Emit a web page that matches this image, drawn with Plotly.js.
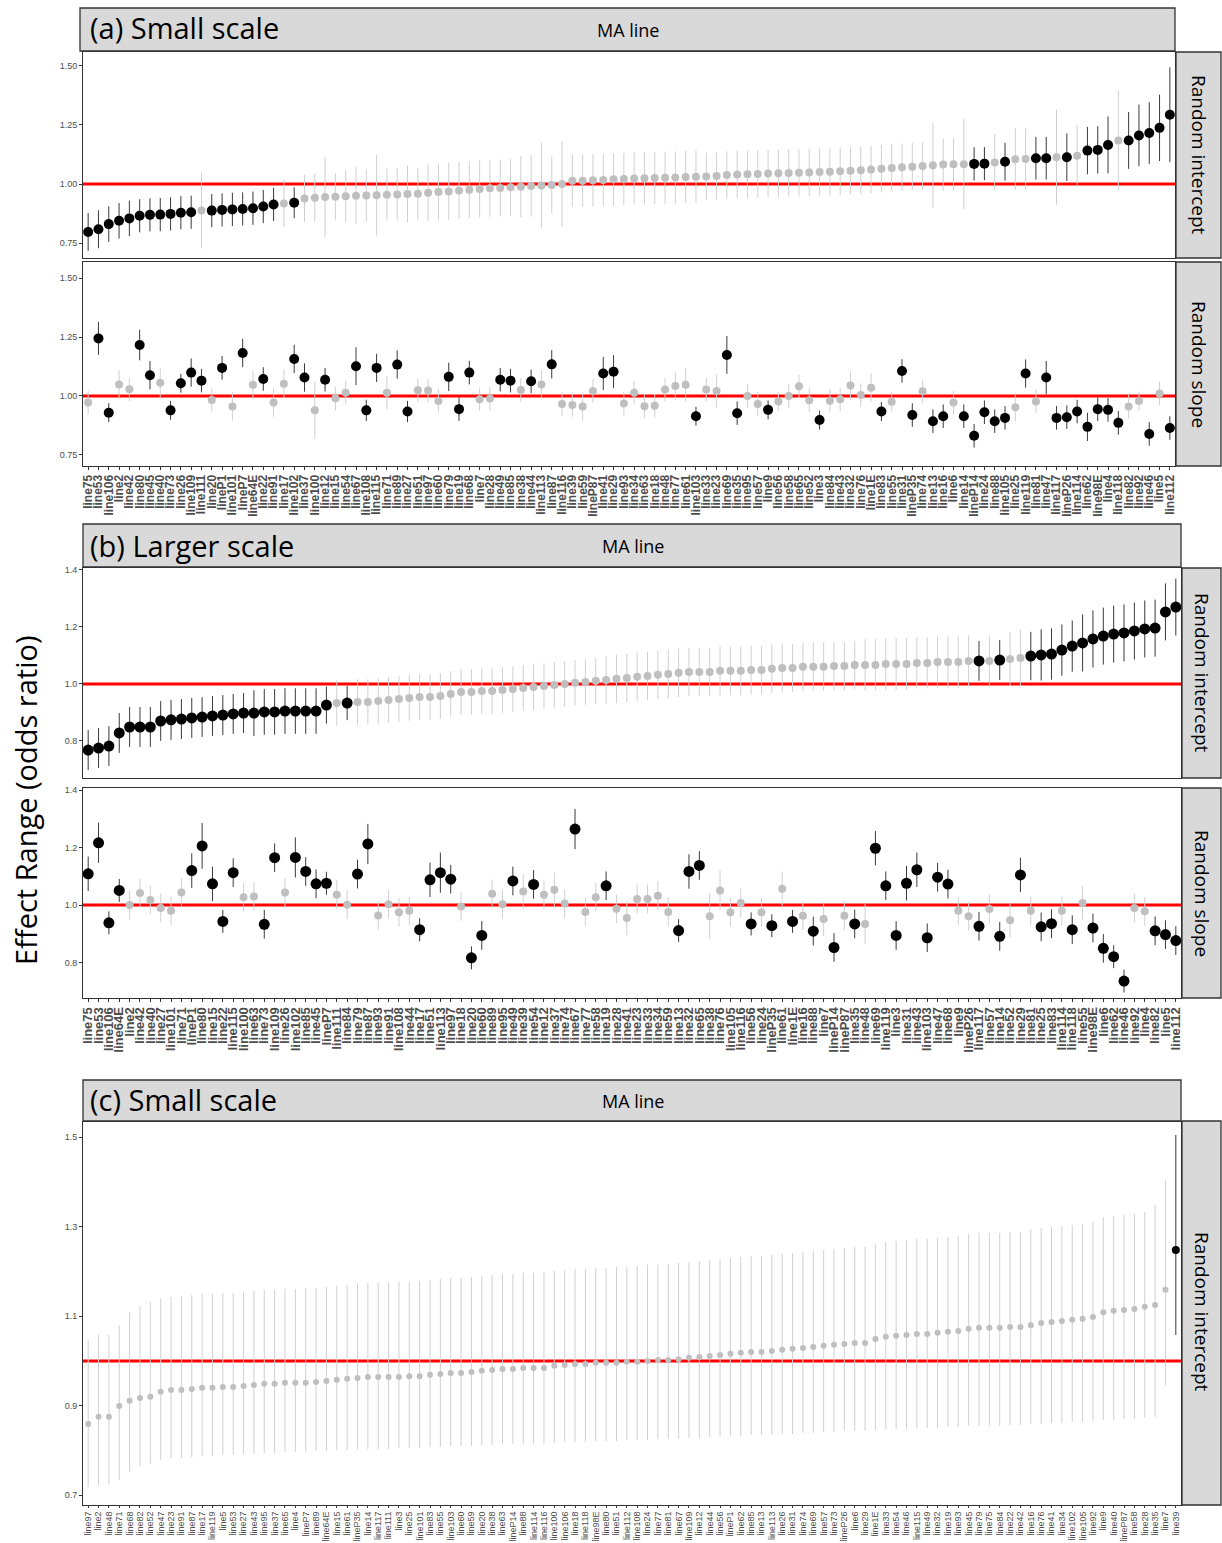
<!DOCTYPE html>
<html><head><meta charset="utf-8">
<script src="https://cdn.plot.ly/plotly-3.0.1.min.js"></script>
<style>body{margin:0;background:#fff}#chart{width:1222px;height:1543px}</style>
</head><body><div id="chart"></div>
<script>
// ---------------- DATA ----------------
const labelsA = ["line75","line53","line106","line2","line42","line80","line45","line40","line73","line26",
"line109","line111","line20","lineP1","line101","lineP7","line64E","line22","line91","line17",
"line102","line37","line100","line12","line15","line54","line67","line108","line115","line71",
"line89","line27","line51","line97","line60","line79","line19","line68","line7","line28",
"line49","line85","line38","line44","line113","line87","line116","line39","line59","lineP87",
"line41","line29","line93","line34","line63","line18","line48","line77","line61","line103",
"line33","line23","line69","line35","line95","line57","line9","line56","line58","line65",
"line52","line3","line84","line43","line32","line76","line1E","line83","line55","line31",
"lineP35","line74","line13","line16","line6","line14","lineP14","line24","line88","line105",
"line25","line119","line81","line47","line117","lineP26","line114","line62","line98E","line4",
"line118","line82","line92","line46","line5","line112"];

const interceptA = [0.798,0.809,0.831,0.845,0.855,0.866,0.870,0.871,0.874,0.879,
0.881,0.888,0.888,0.891,0.893,0.895,0.898,0.905,0.914,0.918,
0.921,0.939,0.942,0.945,0.946,0.948,0.951,0.952,0.953,0.955,
0.956,0.958,0.959,0.963,0.966,0.969,0.973,0.976,0.979,0.982,
0.983,0.986,0.989,0.992,0.994,0.996,1.000,1.014,1.014,1.016,
1.017,1.020,1.021,1.023,1.024,1.025,1.027,1.028,1.030,1.031,
1.032,1.034,1.038,1.040,1.041,1.042,1.044,1.045,1.047,1.048,
1.049,1.051,1.052,1.054,1.056,1.058,1.061,1.065,1.068,1.071,
1.073,1.076,1.079,1.082,1.083,1.084,1.085,1.086,1.091,1.094,
1.105,1.106,1.109,1.109,1.113,1.113,1.119,1.141,1.144,1.165,
1.184,1.184,1.205,1.215,1.237,1.292];
const interceptAErr = [0.08,0.08,0.075,0.075,0.075,0.07,0.07,0.07,0.07,0.07,
0.07,0.16,0.07,0.07,0.07,0.07,0.07,0.07,0.07,0.10,
0.065,0.10,0.10,0.17,0.10,0.11,0.12,0.11,0.17,0.11,
0.11,0.12,0.11,0.12,0.12,0.12,0.12,0.12,0.12,0.12,
0.12,0.12,0.13,0.13,0.18,0.12,0.18,0.11,0.11,0.11,
0.11,0.11,0.11,0.11,0.11,0.11,0.11,0.11,0.11,0.11,
0.10,0.10,0.10,0.10,0.10,0.10,0.10,0.10,0.10,0.10,
0.10,0.10,0.10,0.10,0.10,0.10,0.10,0.10,0.10,0.10,
0.10,0.10,0.18,0.11,0.11,0.19,0.07,0.07,0.12,0.08,
0.13,0.13,0.09,0.09,0.20,0.10,0.13,0.10,0.10,0.12,
0.21,0.12,0.13,0.13,0.14,0.20];
const interceptASig = [1,1,1,1,1,1,1,1,1,1,
1,0,1,1,1,1,1,1,1,0,
1,0,0,0,0,0,0,0,0,0,
0,0,0,0,0,0,0,0,0,0,
0,0,0,0,0,0,0,0,0,0,
0,0,0,0,0,0,0,0,0,0,
0,0,0,0,0,0,0,0,0,0,
0,0,0,0,0,0,0,0,0,0,
0,0,0,0,0,0,1,1,0,1,
0,0,1,1,0,1,0,1,1,1,
0,1,1,1,1,1];

const slopeA = [0.972,1.244,0.929,1.049,1.028,1.216,1.088,1.056,0.939,1.054,
1.099,1.065,0.983,1.119,0.955,1.182,1.047,1.072,0.972,1.052,
1.157,1.078,0.939,1.069,0.990,1.014,1.126,0.939,1.119,1.014,
1.133,0.934,1.024,1.023,0.979,1.081,0.944,1.099,0.986,0.989,
1.069,1.065,1.025,1.062,1.049,1.134,0.966,0.962,0.955,1.021,
1.095,1.103,0.968,1.014,0.956,0.958,1.027,1.042,1.047,0.914,
1.027,1.021,1.174,0.927,1.000,0.966,0.941,0.977,1.000,1.041,
0.982,0.898,0.980,0.986,1.044,1.004,1.035,0.934,0.975,1.106,
0.919,1.020,0.893,0.914,0.972,0.914,0.831,0.931,0.893,0.907,
0.952,1.095,0.977,1.078,0.907,0.910,0.934,0.869,0.944,0.941,
0.886,0.955,0.979,0.839,1.010,0.864];
const slopeAErr = [0.05,0.07,0.04,0.06,0.05,0.065,0.06,0.06,0.04,0.04,
0.06,0.05,0.05,0.05,0.06,0.06,0.06,0.05,0.06,0.06,
0.06,0.06,0.12,0.05,0.05,0.05,0.08,0.045,0.06,0.07,
0.06,0.045,0.05,0.05,0.05,0.06,0.05,0.05,0.05,0.05,
0.05,0.05,0.05,0.05,0.06,0.06,0.05,0.05,0.06,0.05,
0.07,0.07,0.05,0.05,0.05,0.05,0.05,0.06,0.07,0.04,
0.05,0.07,0.08,0.05,0.05,0.05,0.04,0.04,0.05,0.05,
0.05,0.04,0.05,0.05,0.06,0.05,0.06,0.04,0.04,0.05,
0.05,0.05,0.05,0.05,0.05,0.05,0.05,0.05,0.05,0.05,
0.06,0.06,0.05,0.07,0.05,0.05,0.05,0.06,0.05,0.05,
0.05,0.05,0.04,0.05,0.05,0.05];
const slopeASig = [0,1,1,0,0,1,1,0,1,1,
1,1,0,1,0,1,0,1,0,0,
1,1,0,1,0,0,1,1,1,0,
1,1,0,0,0,1,1,1,0,0,
1,1,0,1,0,1,0,0,0,0,
1,1,0,0,0,0,0,0,0,1,
0,0,1,1,0,0,1,0,0,0,
0,1,0,0,0,0,0,1,0,1,
1,0,1,1,0,1,1,1,1,1,
0,1,0,1,1,1,1,1,1,1,
1,0,0,1,0,1];

const labelsB = ["line75","line53","line106","line64E","line2","line42","line40","line27","line101","line71",
"lineP1","line80","line15","line22","line115","line100","line63","line73","line109","line26",
"line102","line85","line45","lineP7","line111","line84","line79","line87","line93","line91",
"line108","line44","line17","line51","line113","line97","line18","line20","line60","line89",
"line95","line49","line39","line54","line12","line37","line74","line67","line77","line58",
"line19","line28","line41","line23","line33","line34","line59","line13","line32","line65",
"line38","line76","line105","line116","line56","line24","lineP35","line61","line1E","line16",
"line88","line7","lineP14","lineP87","line35","line48","line69","line119","line3","line31",
"line43","line103","line47","line68","line9","lineP26","line117","line57","line14","line52",
"line29","line81","line25","line83","line114","line118","line55","line98E","line6","line62",
"line46","line92","line4","line82","line5","line112"];

const interceptB = [0.768,0.775,0.782,0.828,0.849,0.849,0.849,0.870,0.874,0.877,
0.881,0.884,0.888,0.891,0.895,0.898,0.898,0.902,0.902,0.905,
0.905,0.905,0.905,0.926,0.933,0.933,0.937,0.937,0.940,0.944,
0.947,0.951,0.954,0.954,0.958,0.965,0.972,0.972,0.975,0.975,
0.979,0.982,0.986,0.989,0.993,0.996,1.000,1.004,1.007,1.011,
1.014,1.018,1.021,1.025,1.028,1.032,1.035,1.039,1.042,1.042,
1.042,1.046,1.046,1.046,1.049,1.049,1.053,1.056,1.056,1.060,
1.060,1.060,1.063,1.063,1.067,1.067,1.067,1.070,1.070,1.070,
1.074,1.074,1.077,1.077,1.077,1.081,1.081,1.081,1.084,1.088,
1.091,1.098,1.102,1.105,1.119,1.133,1.144,1.158,1.168,1.175,
1.179,1.186,1.193,1.196,1.253,1.270];
const interceptBErr = [0.07,0.07,0.07,0.07,0.07,0.07,0.07,0.07,0.07,0.07,
0.07,0.07,0.07,0.07,0.07,0.07,0.08,0.08,0.08,0.08,
0.08,0.08,0.08,0.065,0.08,0.06,0.08,0.08,0.08,0.08,
0.08,0.08,0.08,0.08,0.08,0.08,0.08,0.08,0.08,0.08,
0.08,0.08,0.08,0.08,0.08,0.08,0.08,0.08,0.08,0.08,
0.085,0.085,0.085,0.085,0.085,0.085,0.085,0.085,0.085,0.085,
0.085,0.085,0.085,0.085,0.085,0.085,0.085,0.085,0.085,0.085,
0.085,0.085,0.085,0.085,0.085,0.09,0.09,0.09,0.09,0.09,
0.09,0.09,0.09,0.09,0.09,0.09,0.07,0.09,0.07,0.095,
0.10,0.085,0.09,0.09,0.09,0.09,0.10,0.10,0.10,0.10,
0.10,0.10,0.10,0.10,0.10,0.10];
const interceptBSig = [1,1,1,1,1,1,1,1,1,1,
1,1,1,1,1,1,1,1,1,1,
1,1,1,1,0,1,0,0,0,0,
0,0,0,0,0,0,0,0,0,0,
0,0,0,0,0,0,0,0,0,0,
0,0,0,0,0,0,0,0,0,0,
0,0,0,0,0,0,0,0,0,0,
0,0,0,0,0,0,0,0,0,0,
0,0,0,0,0,0,1,0,1,0,
0,1,1,1,1,1,1,1,1,1,
1,1,1,1,1,1];

const slopeB = [1.109,1.217,0.938,1.051,1.000,1.042,1.018,0.990,0.980,1.044,
1.120,1.206,1.074,0.943,1.113,1.027,1.030,0.933,1.165,1.044,
1.166,1.117,1.074,1.076,1.036,1.001,1.108,1.213,0.964,1.003,
0.975,0.980,0.914,1.088,1.113,1.090,0.995,0.816,0.894,1.039,
1.003,1.084,1.047,1.072,1.036,1.053,1.005,1.265,0.976,1.027,
1.067,0.987,0.955,1.021,1.021,1.032,0.976,0.911,1.117,1.138,
0.961,1.051,0.975,1.007,0.934,0.975,0.928,1.057,0.943,0.963,
0.909,0.951,0.852,0.963,0.934,0.934,1.198,1.067,0.894,1.076,
1.123,0.886,1.097,1.073,0.980,0.961,0.926,0.986,0.891,0.947,
1.105,0.980,0.924,0.935,0.980,0.914,1.007,0.920,0.849,0.820,
0.735,0.990,0.978,0.910,0.897,0.876];
const slopeBErr = [0.06,0.07,0.04,0.04,0.05,0.05,0.05,0.05,0.05,0.05,
0.06,0.08,0.06,0.04,0.05,0.05,0.05,0.05,0.05,0.05,
0.07,0.05,0.05,0.04,0.05,0.05,0.05,0.07,0.05,0.05,
0.05,0.05,0.04,0.06,0.07,0.05,0.05,0.04,0.05,0.05,
0.05,0.05,0.06,0.05,0.05,0.06,0.05,0.07,0.05,0.05,
0.05,0.05,0.06,0.05,0.05,0.05,0.05,0.04,0.06,0.05,
0.08,0.07,0.05,0.05,0.04,0.05,0.04,0.06,0.04,0.05,
0.05,0.06,0.05,0.05,0.05,0.07,0.06,0.05,0.05,0.06,
0.06,0.05,0.05,0.05,0.05,0.05,0.05,0.05,0.05,0.06,
0.06,0.05,0.05,0.05,0.05,0.05,0.06,0.05,0.05,0.04,
0.04,0.05,0.05,0.05,0.05,0.05];
const slopeBSig = [1,1,1,1,0,0,0,0,0,0,
1,1,1,1,1,0,0,1,1,0,
1,1,1,1,0,0,1,1,0,0,
0,0,1,1,1,1,0,1,1,0,
0,1,0,1,0,0,0,1,0,0,
1,0,0,0,0,0,0,1,1,1,
0,0,0,0,1,0,1,0,1,0,
1,0,1,0,1,0,1,1,1,1,
1,1,1,1,0,0,1,0,1,0,
1,0,1,1,0,1,0,1,1,1,
1,0,0,1,1,1];

const labelsC = ["line97","line2","line48","line71","line68","line82","line52","line47","line23","line91",
"line87","line17","line119","line5","line53","line27","line43","line95","line37","line65",
"line4","lineP7","line89","line64E","line15","line61","lineP35","line14","line117","line111",
"line3","line25","line101","line83","line55","line103","line60","line59","line20","line38",
"line63","lineP14","line88","line114","line116","line100","line106","line18","line118","line98E",
"line80","line51","line112","line108","line24","line77","line81","line67","line109","line12",
"line44","line56","lineP1","line62","line85","line13","line113","line26","line31","line74",
"line69","line57","line73","lineP26","line6","line29","line1E","line33","line54","line46",
"line115","line49","line32","line19","line93","line45","line79","line75","line84","line22",
"line42","line16","line76","line41","line34","line102","line105","line92","line9","line40",
"lineP87","line58","line28","line35","line7","line39"];

const interceptC = [0.859,0.875,0.875,0.899,0.911,0.917,0.920,0.931,0.935,0.935,
0.937,0.940,0.940,0.942,0.942,0.944,0.946,0.949,0.949,0.951,
0.951,0.951,0.953,0.955,0.958,0.960,0.962,0.964,0.964,0.964,
0.964,0.966,0.966,0.969,0.971,0.973,0.973,0.975,0.978,0.980,
0.982,0.982,0.984,0.984,0.984,0.989,0.991,0.993,0.993,0.996,
0.996,0.996,0.998,0.998,1.000,1.002,1.002,1.004,1.007,1.009,
1.011,1.013,1.016,1.018,1.020,1.020,1.022,1.025,1.027,1.029,
1.031,1.034,1.036,1.038,1.040,1.040,1.049,1.054,1.056,1.058,
1.060,1.060,1.063,1.065,1.067,1.072,1.074,1.074,1.074,1.076,
1.076,1.080,1.085,1.087,1.089,1.092,1.094,1.098,1.109,1.112,
1.114,1.116,1.121,1.125,1.159,1.248];
const interceptCHi = [1.047,1.058,1.058,1.080,1.109,1.123,1.132,1.139,1.143,1.145,
1.147,1.150,1.150,1.152,1.152,1.154,1.156,1.159,1.159,1.161,
1.161,1.163,1.163,1.165,1.168,1.170,1.172,1.174,1.174,1.174,
1.177,1.177,1.179,1.181,1.183,1.185,1.185,1.188,1.190,1.192,
1.194,1.194,1.197,1.197,1.199,1.201,1.203,1.206,1.206,1.208,
1.208,1.210,1.210,1.212,1.215,1.215,1.217,1.219,1.221,1.223,
1.226,1.228,1.230,1.232,1.235,1.235,1.237,1.239,1.241,1.244,
1.246,1.248,1.250,1.253,1.255,1.255,1.261,1.266,1.268,1.270,
1.273,1.273,1.275,1.277,1.279,1.284,1.286,1.286,1.286,1.288,
1.288,1.293,1.297,1.299,1.302,1.304,1.306,1.311,1.322,1.324,
1.326,1.328,1.333,1.349,1.404,1.505];
const interceptCLo = [0.718,0.723,0.725,0.734,0.752,0.765,0.770,0.779,0.783,0.783,
0.785,0.788,0.788,0.790,0.790,0.792,0.792,0.794,0.794,0.797,
0.797,0.797,0.799,0.799,0.801,0.801,0.803,0.803,0.803,0.803,
0.806,0.806,0.806,0.808,0.808,0.810,0.810,0.810,0.812,0.812,
0.815,0.815,0.815,0.815,0.815,0.817,0.819,0.819,0.819,0.821,
0.821,0.821,0.823,0.823,0.823,0.826,0.826,0.826,0.828,0.828,
0.830,0.830,0.832,0.832,0.835,0.835,0.835,0.837,0.837,0.839,
0.839,0.841,0.841,0.844,0.844,0.844,0.846,0.848,0.848,0.848,
0.850,0.850,0.850,0.853,0.853,0.855,0.855,0.855,0.855,0.857,
0.857,0.859,0.859,0.861,0.861,0.864,0.864,0.866,0.868,0.868,
0.870,0.870,0.873,0.875,0.946,1.058];
const interceptCSig = [0,0,0,0,0,0,0,0,0,0,0,0,0,0,0,0,0,0,0,0,
0,0,0,0,0,0,0,0,0,0,0,0,0,0,0,0,0,0,0,0,
0,0,0,0,0,0,0,0,0,0,0,0,0,0,0,0,0,0,0,0,
0,0,0,0,0,0,0,0,0,0,0,0,0,0,0,0,0,0,0,0,
0,0,0,0,0,0,0,0,0,0,0,0,0,0,0,0,0,0,0,0,
0,0,0,0,0,1];

const yTicksA = [0.75,1.00,1.25,1.50], yTickTextA = ["0.75","1.00","1.25","1.50"];
const yTicksB = [0.8,1.0,1.2,1.4], yTickTextB = ["0.8","1.0","1.2","1.4"];
const yTicksC = [0.7,0.9,1.1,1.3,1.5], yTickTextC = ["0.7","0.9","1.1","1.3","1.5"];

// ---------------- LAYOUT HELPERS ----------------
const W = 1222, H = 1543;
const px = x => x / W, py = y => 1 - y / H;

function pointTraces(labels, vals, up, down, sig, xa, ya, sizes) {
  const groups = [
    {s: 0, color: '#bfbfbf', ecolor: '#d0d0d0', size: sizes[0]},
    {s: 1, color: '#000000', ecolor: '#3a3a3a', size: sizes[1]}
  ];
  return groups.map(g => {
    const idx = labels.map((_, i) => i).filter(i => sig[i] === g.s);
    return {
      type: 'scatter', mode: 'markers', xaxis: xa, yaxis: ya, showlegend: false,
      x: idx.map(i => labels[i]), y: idx.map(i => vals[i]),
      marker: {color: g.color, size: g.size},
      error_y: {type: 'data', symmetric: false, array: idx.map(i => up[i]),
                arrayminus: idx.map(i => down[i]), color: g.ecolor, thickness: 1, width: 0}
    };
  });
}

const traces = [].concat(
  pointTraces(labelsA, interceptA, interceptAErr, interceptAErr, interceptASig, 'x', 'y', [8, 10]),
  pointTraces(labelsA, slopeA, slopeAErr, slopeAErr, slopeASig, 'x2', 'y2', [8, 10]),
  pointTraces(labelsB, interceptB, interceptBErr, interceptBErr, interceptBSig, 'x3', 'y3', [8, 11]),
  pointTraces(labelsB, slopeB, slopeBErr, slopeBErr, slopeBSig, 'x4', 'y4', [8, 11]),
  pointTraces(labelsC, interceptC,
    interceptC.map((v, i) => interceptCHi[i] - v),
    interceptC.map((v, i) => v - interceptCLo[i]),
    interceptCSig, 'x5', 'y5', [6, 8])
);

const tickFontY = {family: 'Liberation Sans, Arial, sans-serif', size: 9, color: '#4d4d4d'};
function xAxis(labels, dom, anchor, showLabels, font, tlen) {
  return {
    domain: dom, anchor: anchor, type: 'category', categoryorder: 'array', categoryarray: labels,
    range: [-0.5, labels.length - 0.5], tickmode: 'array', tickvals: labels, ticktext: labels,
    showticklabels: showLabels, tickangle: -90, tickfont: font,
    ticks: showLabels ? 'outside' : '', ticklen: tlen || 3, tickcolor: '#333',
    showgrid: false, zeroline: false, showline: true, mirror: true, linecolor: '#333', linewidth: 1,
    fixedrange: true
  };
}
function yAxis(dom, anchor, range, tv, tt) {
  return {
    domain: dom, anchor: anchor, range: range, tickmode: 'array', tickvals: tv, ticktext: tt,
    tickfont: tickFontY, ticks: 'outside', ticklen: 3, tickcolor: '#333',
    showgrid: false, zeroline: false, showline: true, mirror: true, linecolor: '#333', linewidth: 1,
    fixedrange: true
  };
}

const domXA = [px(83), px(1175)], domXB = [px(83), px(1181)];
const fontXA = {family: 'Liberation Sans, Arial, sans-serif', size: 12, color: '#4d4d4d', weight: 'bold'};
const fontXB = {family: 'Liberation Sans, Arial, sans-serif', size: 13, color: '#4d4d4d', weight: 'bold'};
const fontXC = {family: 'Liberation Sans, Arial, sans-serif', size: 9, color: '#4d4d4d'};

const stripFill = '#d9d9d9', stripLine = {color: '#333', width: 1.3};
function rect(x0, y0, x1, y1) {
  return {type: 'rect', xref: 'paper', yref: 'paper', x0: px(x0), x1: px(x1), y0: py(y1), y1: py(y0),
          fillcolor: stripFill, line: stripLine, layer: 'above'};
}
function redLine(xa, ya) {
  return {type: 'line', xref: xa + ' domain', yref: ya, x0: 0, x1: 1, y0: 1, y1: 1,
          line: {color: '#ff0000', width: 3}, layer: 'below'};
}
const titleFont = s => ({family: 'Open Sans, Lato, sans-serif', size: s, color: '#000'});
function ann(text, x, y, size, opts) {
  return Object.assign({text: text, x: px(x), y: py(y), xref: 'paper', yref: 'paper', showarrow: false,
    font: titleFont(size), xanchor: 'center', yanchor: 'middle'}, opts || {});
}

const layout = {
  width: W, height: H, margin: {l: 0, r: 0, t: 0, b: 0}, paper_bgcolor: '#fff', plot_bgcolor: '#fff',
  showlegend: false,
  xaxis: xAxis(labelsA, domXA, 'y', false, fontXA),
  xaxis2: xAxis(labelsA, domXA, 'y2', true, fontXA),
  xaxis3: xAxis(labelsB, domXB, 'y3', false, fontXB),
  xaxis4: xAxis(labelsB, domXB, 'y4', true, fontXB),
  xaxis5: xAxis(labelsC, domXB, 'y5', true, fontXC, 2),
  yaxis: yAxis([py(258), py(52)], 'x', [0.688, 1.557], yTicksA, yTickTextA),
  yaxis2: yAxis([py(466), py(262)], 'x2', [0.703, 1.568], yTicksA, yTickTextA),
  yaxis3: yAxis([py(778), py(568)], 'x3', [0.670, 1.407], yTicksB, yTickTextB),
  yaxis4: yAxis([py(998), py(788)], 'x4', [0.676, 1.408], yTicksB, yTickTextB),
  yaxis5: yAxis([py(1505), py(1122)], 'x5', [0.678, 1.534], yTicksC, yTickTextC),
  shapes: [
    redLine('x', 'y'), redLine('x2', 'y2'), redLine('x3', 'y3'), redLine('x4', 'y4'), redLine('x5', 'y5'),
    rect(80, 8, 1175, 51), rect(1176, 52, 1221, 258), rect(1176, 262, 1221, 466),
    rect(83, 524, 1181, 567), rect(1182, 568, 1221, 778), rect(1182, 788, 1221, 998),
    rect(83, 1080, 1181, 1121), rect(1182, 1121, 1221, 1505)
  ],
  annotations: [
    ann('(a) Small scale', 88, 28, 29, {xanchor: 'left'}),
    ann('MA line', 628, 30, 18),
    ann('(b) Larger scale', 88, 545, 29, {xanchor: 'left'}),
    ann('MA line', 633, 546, 18),
    ann('(c) Small scale', 88, 1099, 29, {xanchor: 'left'}),
    ann('MA line', 633, 1101, 18),
    ann('Random intercept', 1199, 155, 19, {textangle: 90}),
    ann('Random slope', 1199, 364, 19, {textangle: 90}),
    ann('Random intercept', 1202, 673, 19, {textangle: 90}),
    ann('Random slope', 1202, 893, 19, {textangle: 90}),
    ann('Random intercept', 1202, 1312, 19, {textangle: 90}),
    ann('Effect Range (odds ratio)', 25, 800, 29, {textangle: -90})
  ]
};

Plotly.newPlot('chart', traces, layout, {displayModeBar: false, staticPlot: true});
</script>
</body></html>
